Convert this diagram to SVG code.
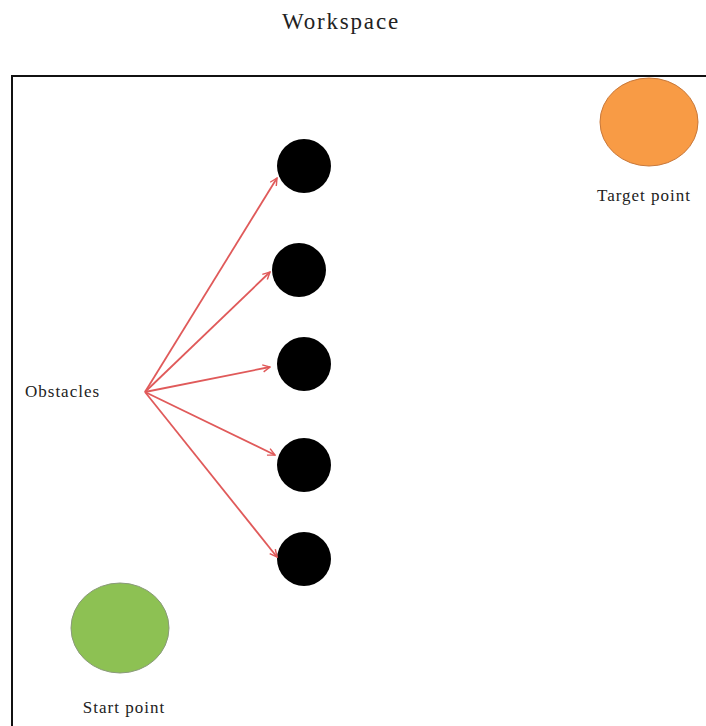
<svg xmlns="http://www.w3.org/2000/svg" width="706" height="726" viewBox="0 0 706 726">
<style>
text{font-family:"Liberation Serif","Times New Roman",serif;fill:#222}
.lbl{font-size:17px;letter-spacing:1px}
.obs{fill:#000}
.arr{stroke:#e05a5a;stroke-width:1.8;fill:none;marker-end:url(#ah)}
</style>
<defs>
<marker id="ah" viewBox="0 0 10 10" refX="9" refY="5" markerWidth="9" markerHeight="9" orient="auto" markerUnits="userSpaceOnUse">
<path d="M1,1 L9,5 L1,9" fill="none" stroke="#e05a5a" stroke-width="1.6"/>
</marker>
</defs>
<rect width="706" height="726" fill="#fff"/>
<text x="341" y="29" font-size="23" text-anchor="middle" letter-spacing="1.8">Workspace</text>
<path d="M12,726 L12,76 L706,76" fill="none" stroke="#111" stroke-width="2"/>
<g id="target"><ellipse cx="649" cy="122" rx="49" ry="44" fill="#f89b45" stroke="#c8783a" stroke-width="1"/>
<text class="lbl" x="644" y="201" text-anchor="middle">Target point</text></g>
<g id="start"><ellipse cx="120" cy="628" rx="49" ry="45" fill="#8dc153" stroke="#8a9a7a" stroke-width="1"/>
<text class="lbl" x="124" y="713" text-anchor="middle">Start point</text></g>
<g id="obstacles-label"><text class="lbl" x="25" y="397">Obstacles</text></g>
<g id="obs1"><circle class="obs" cx="304" cy="166" r="27"/></g>
<g id="obs2"><circle class="obs" cx="299" cy="270" r="27"/></g>
<g id="obs3"><circle class="obs" cx="304" cy="364" r="27"/></g>
<g id="obs4"><circle class="obs" cx="304" cy="465" r="27"/></g>
<g id="obs5"><circle class="obs" cx="304" cy="559" r="27"/></g>
<g id="connectors">
<line class="arr" x1="145" y1="392" x2="277" y2="178"/>
<line class="arr" x1="145" y1="392" x2="270" y2="272"/>
<line class="arr" x1="145" y1="392" x2="270" y2="367"/>
<line class="arr" x1="145" y1="392" x2="275" y2="455"/>
<line class="arr" x1="145" y1="392" x2="277" y2="557"/>
</g>
</svg>
